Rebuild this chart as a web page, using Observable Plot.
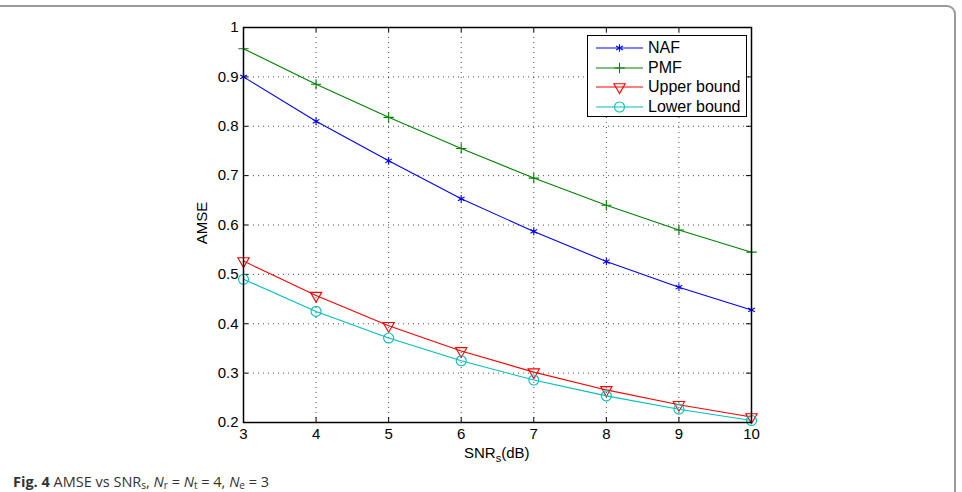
<!DOCTYPE html>
<html>
<head>
<meta charset="utf-8">
<script src="https://cdn.jsdelivr.net/npm/d3@7"></script>
<script src="https://cdn.jsdelivr.net/npm/@observablehq/plot@0.6"></script>
<style>
  html, body { margin: 0; padding: 0; background: #fff; width: 962px; height: 492px; overflow: hidden; }
  #wrap { position: relative; width: 962px; height: 492px; }
  #border { position: absolute; left: -10px; top: 5px; width: 966px; height: 600px; border: 2px solid #9a9a9a; border-radius: 9px; box-sizing: border-box; }
  #chart { position: absolute; left: 0; top: 0; }
  #legend { position: absolute; left: 587px; top: 35px; width: 160px; height: 82px; border: 1px solid #000; background: #fff; box-sizing: border-box; font-family: "Liberation Sans", Arial, sans-serif; font-size: 16px; }
  .row { position: absolute; left: 0; height: 20px; display: flex; align-items: center; }
  .row svg { display: block; }
  .row span { margin-left: 4px; color: #000; }
  #caption { position: absolute; left: 13px; top: 474px; font-family: "Open Sans", sans-serif; font-size: 14.5px; line-height: 16px; color: #333; white-space: nowrap; }
  #caption sub { font-size: 10px; vertical-align: -2px; line-height: 0; }
  #xlabel { position: absolute; font-family: "Liberation Sans", Arial, sans-serif; font-size: 15px; line-height: 18px; }
  #ylabel { position: absolute; font-family: "Liberation Sans", Arial, sans-serif; font-size: 15px; line-height: 18px; transform: rotate(-90deg); transform-origin: center; }
</style>
</head>
<body>
<div id="wrap">
  <div id="border"></div>
  <div id="chart"></div>
  <div id="legend"></div>
  <div id="caption"><b>Fig. 4</b> AMSE vs SNR<sub>s</sub>, <i>N</i><sub>r</sub> = <i>N</i><sub>t</sub> = 4, <i>N</i><sub>e</sub> = 3</div>
</div>
<script>
// ---- data ----
const snr = [3, 4, 5, 6, 7, 8, 9, 10];
const naf = [0.900, 0.810, 0.730, 0.653, 0.587, 0.526, 0.474, 0.428];
const pmf = [0.957, 0.885, 0.818, 0.755, 0.695, 0.640, 0.590, 0.545];
const upperBound = [0.527, 0.457, 0.396, 0.345, 0.302, 0.266, 0.236, 0.211];
const lowerBound = [0.490, 0.425, 0.371, 0.325, 0.286, 0.254, 0.227, 0.204];
const seriesNames = ["NAF", "PMF", "Upper bound", "Lower bound"];
const xTicks = [3, 4, 5, 6, 7, 8, 9, 10];
const yTicks = [0.2, 0.3, 0.4, 0.5, 0.6, 0.7, 0.8, 0.9, 1];
const xLabel = "SNR";
const yLabel = "AMSE";

// ---- styles ----
const styles = {
  "NAF": {color: "#0000ff", symbol: "asterisk", rotate: 0, r: 3.6},
  "PMF": {color: "#008000", symbol: "plus", rotate: 0, r: 3.4},
  "Upper bound": {color: "#ff0000", symbol: "triangle", rotate: 180, r: 4.2},
  "Lower bound": {color: "#00bfbf", symbol: "circle", rotate: 0, r: 5}
};
const values = [naf, pmf, upperBound, lowerBound];
const data = seriesNames.flatMap((s, i) => snr.map((x, j) => ({series: s, x, y: values[i][j]})));

const W = 962, H = 492;
const mL = 243, mR = 211, mT = 27, mB = 70;
const innerW = W - mL - mR, innerH = H - mT - mB;
const tick = 5;
const font = "'Liberation Sans', Arial, sans-serif";

const marks = [
  Plot.gridX(xTicks, {stroke: "#000", strokeOpacity: 0.7, strokeDasharray: "1,4"}),
  Plot.gridY(yTicks, {stroke: "#000", strokeOpacity: 0.7, strokeDasharray: "1,4"}),
  // inward ticks on all four sides
  Plot.tickX(xTicks, {x: d => d, insetTop: innerH - tick, stroke: "#000"}),
  Plot.tickX(xTicks, {x: d => d, insetBottom: innerH - tick, stroke: "#000"}),
  Plot.tickY(yTicks, {y: d => d, insetRight: innerW - tick, stroke: "#000"}),
  Plot.tickY(yTicks, {y: d => d, insetLeft: innerW - tick, stroke: "#000"}),
  Plot.axisX(xTicks, {tickSize: 0, tickPadding: 6, fontSize: 15, fontFamily: font, fill: "#000", label: null, tickFormat: d => String(d)}),
  Plot.axisY(yTicks, {tickSize: 0, tickPadding: 5, fontSize: 15, fontFamily: font, fill: "#000", label: null, tickFormat: d => d === 1 ? "1" : d3.format(".1f")(d)}),
];
for (const s of seriesNames) {
  const st = styles[s];
  const sub = data.filter(d => d.series === s);
  marks.push(Plot.line(sub, {x: "x", y: "y", stroke: st.color, strokeWidth: 1.1}));
  marks.push(Plot.dot(sub, {x: "x", y: "y", stroke: st.color, symbol: () => st.symbol, r: st.r, rotate: st.rotate, strokeWidth: 1.1, fill: "none"}));
}
marks.push(Plot.frame({stroke: "#000", strokeWidth: 1.5}));

const chart = Plot.plot({
  width: W, height: H,
  marginLeft: mL, marginRight: mR, marginTop: mT, marginBottom: mB,
  x: {type: "linear", domain: [3, 10]},
  y: {type: "linear", domain: [0.2, 1]},
  style: {background: "transparent", fontFamily: font, overflow: "visible"},
  marks
});
document.getElementById("chart").appendChild(chart);

// axis labels
const wrap = document.getElementById("wrap");
const xl = document.createElement("div");
xl.id = "xlabel";
xl.innerHTML = xLabel + "<sub style='font-size:11px'>s</sub>(dB)";
wrap.appendChild(xl);
xl.style.left = (mL + innerW / 2 - xl.offsetWidth / 2) + "px";
xl.style.top = "444px";
const yl = document.createElement("div");
yl.id = "ylabel";
yl.textContent = yLabel;
wrap.appendChild(yl);
yl.style.left = (202 - yl.offsetWidth / 2) + "px";
yl.style.top = (mT + innerH / 2 - yl.offsetHeight / 2 - 2) + "px";

// legend
const legend = document.getElementById("legend");
seriesNames.forEach((s, i) => {
  const st = styles[s];
  const row = document.createElement("div");
  row.className = "row";
  row.style.top = (2 + i * 19.5) + "px";
  const sv = d3.create("svg").attr("width", 56).attr("height", 20);
  sv.append("line").attr("x1", 8).attr("x2", 55).attr("y1", 10).attr("y2", 10).attr("stroke", st.color).attr("stroke-width", 1.1);
  const sym = {asterisk: d3.symbolAsterisk, plus: d3.symbolPlus, triangle: d3.symbolTriangle, circle: d3.symbolCircle}[st.symbol];
  const size = Math.PI * st.r * st.r;
  sv.append("path").attr("d", d3.symbol(sym, size)())
    .attr("transform", `translate(31.5,10) rotate(${st.rotate})`)
    .attr("fill", "none").attr("stroke", st.color).attr("stroke-width", 1.1);
  row.appendChild(sv.node());
  const t = document.createElement("span");
  t.textContent = s;
  row.appendChild(t);
  legend.appendChild(row);
});
</script>
</body>
</html>
